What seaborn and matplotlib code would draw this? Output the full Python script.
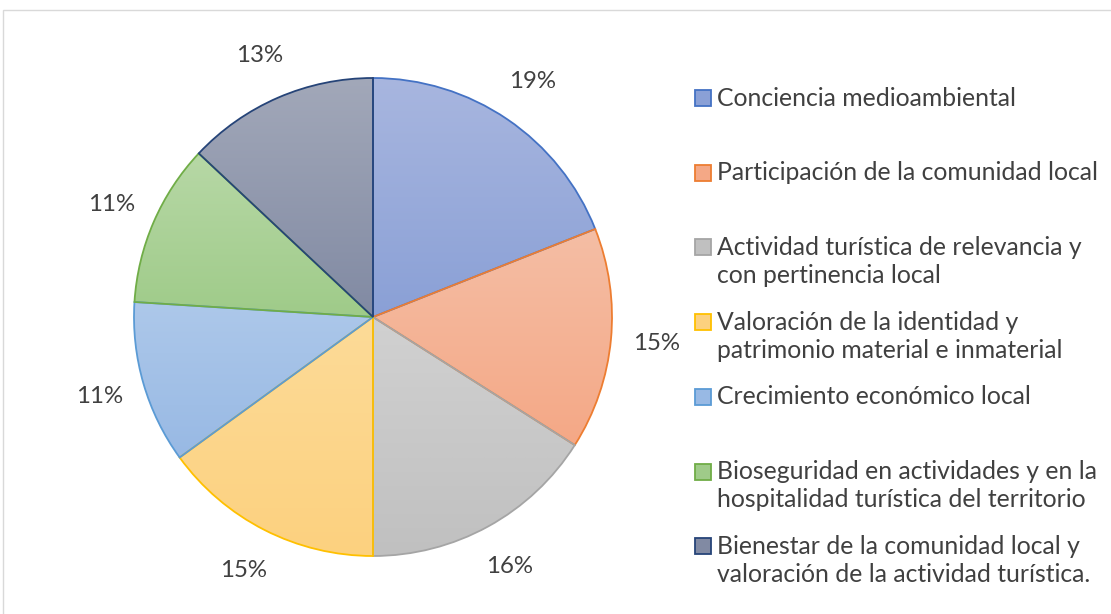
import numpy as np
import matplotlib
matplotlib.use("Agg")
import matplotlib.pyplot as plt
import seaborn as sns
from matplotlib.patches import Rectangle
from matplotlib.colors import LinearSegmentedColormap

sns.set_theme(style="white")
plt.rcParams['font.family'] = ['Lato', 'DejaVu Sans']

categories = [
    "Conciencia medioambiental",
    "Participación de la comunidad local",
    "Actividad turística de relevancia y\ncon pertinencia local",
    "Valoración de la identidad y\npatrimonio material e inmaterial",
    "Crecimiento económico local",
    "Bioseguridad en actividades y en la\nhospitalidad turística del territorio",
    "Bienestar de la comunidad local y\nvaloración de la actividad turística.",
]
values = [19, 15, 16, 15, 11, 11, 13]

top_colors = ["#A8B6DF", "#F5BEA5", "#D1D1D1", "#FDDB98", "#ADC8EA", "#B7D8A6", "#A2A8B9"]
bottom_colors = ["#8AA0D6", "#F4A886", "#C0C0C0", "#FCD17F", "#98B9E4", "#9FCB89", "#818AA3"]
edge_colors = ["#4472C4", "#ED7D31", "#A5A5A5", "#FFC000", "#5B9BD5", "#70AD47", "#264478"]
text_color = "#404040"

W, H = 1111, 614
fig = plt.figure(figsize=(W / 100, H / 100), dpi=100)

# chart area border
fig.add_artist(Rectangle((3 / W, -0.01), 1.02, 1 - 10 / H + 0.01, transform=fig.transFigure,
                         fill=False, edgecolor="#D9D9D9", linewidth=1))

cx, cy, r = 373, 317, 239
ax = fig.add_axes([(cx - r) / W, (H - cy - r) / H, 2 * r / W, 2 * r / H])

wedges, texts, autotexts = ax.pie(
    values, startangle=90, counterclock=False, radius=1,
    autopct='%1.0f%%', pctdistance=1.19,
    wedgeprops=dict(linewidth=1.3, zorder=3),
    textprops=dict(color=text_color, fontsize=17.3),
)

grad = np.linspace(0, 1, 256).reshape(-1, 1)
for w, tc, bc, ec in zip(wedges, top_colors, bottom_colors, edge_colors):
    w.set_facecolor("none")
    w.set_edgecolor(ec)
    ext = w.get_path().get_extents()
    cmap = LinearSegmentedColormap.from_list("g", [tc, bc])
    im = ax.imshow(grad, cmap=cmap, extent=[ext.x0, ext.x1, ext.y0, ext.y1],
                   aspect='auto', origin='upper', zorder=1, interpolation='bilinear')
    im.set_clip_path(w)

ax.set_xlim(-1, 1)
ax.set_ylim(-1, 1)
ax.set_aspect('auto')
ax.axis('off')

# legend
start_y = 98
step = 74.7
line_h = 28
sq = 16
for i, (cat, tc, bc, ec) in enumerate(zip(categories, top_colors, bottom_colors, edge_colors)):
    y = start_y + i * step
    fig.add_artist(Rectangle((695 / W, (H - y - sq / 2) / H), sq / W, sq / H,
                             transform=fig.transFigure, facecolor=bc, edgecolor=ec, linewidth=1.3))
    for j, line in enumerate(cat.split("\n")):
        fig.text(717 / W, (H - (y + j * line_h)) / H, line, va='center', ha='left',
                 fontsize=17.8, color=text_color)

fig.savefig("out.png", dpi=100, facecolor="white")
